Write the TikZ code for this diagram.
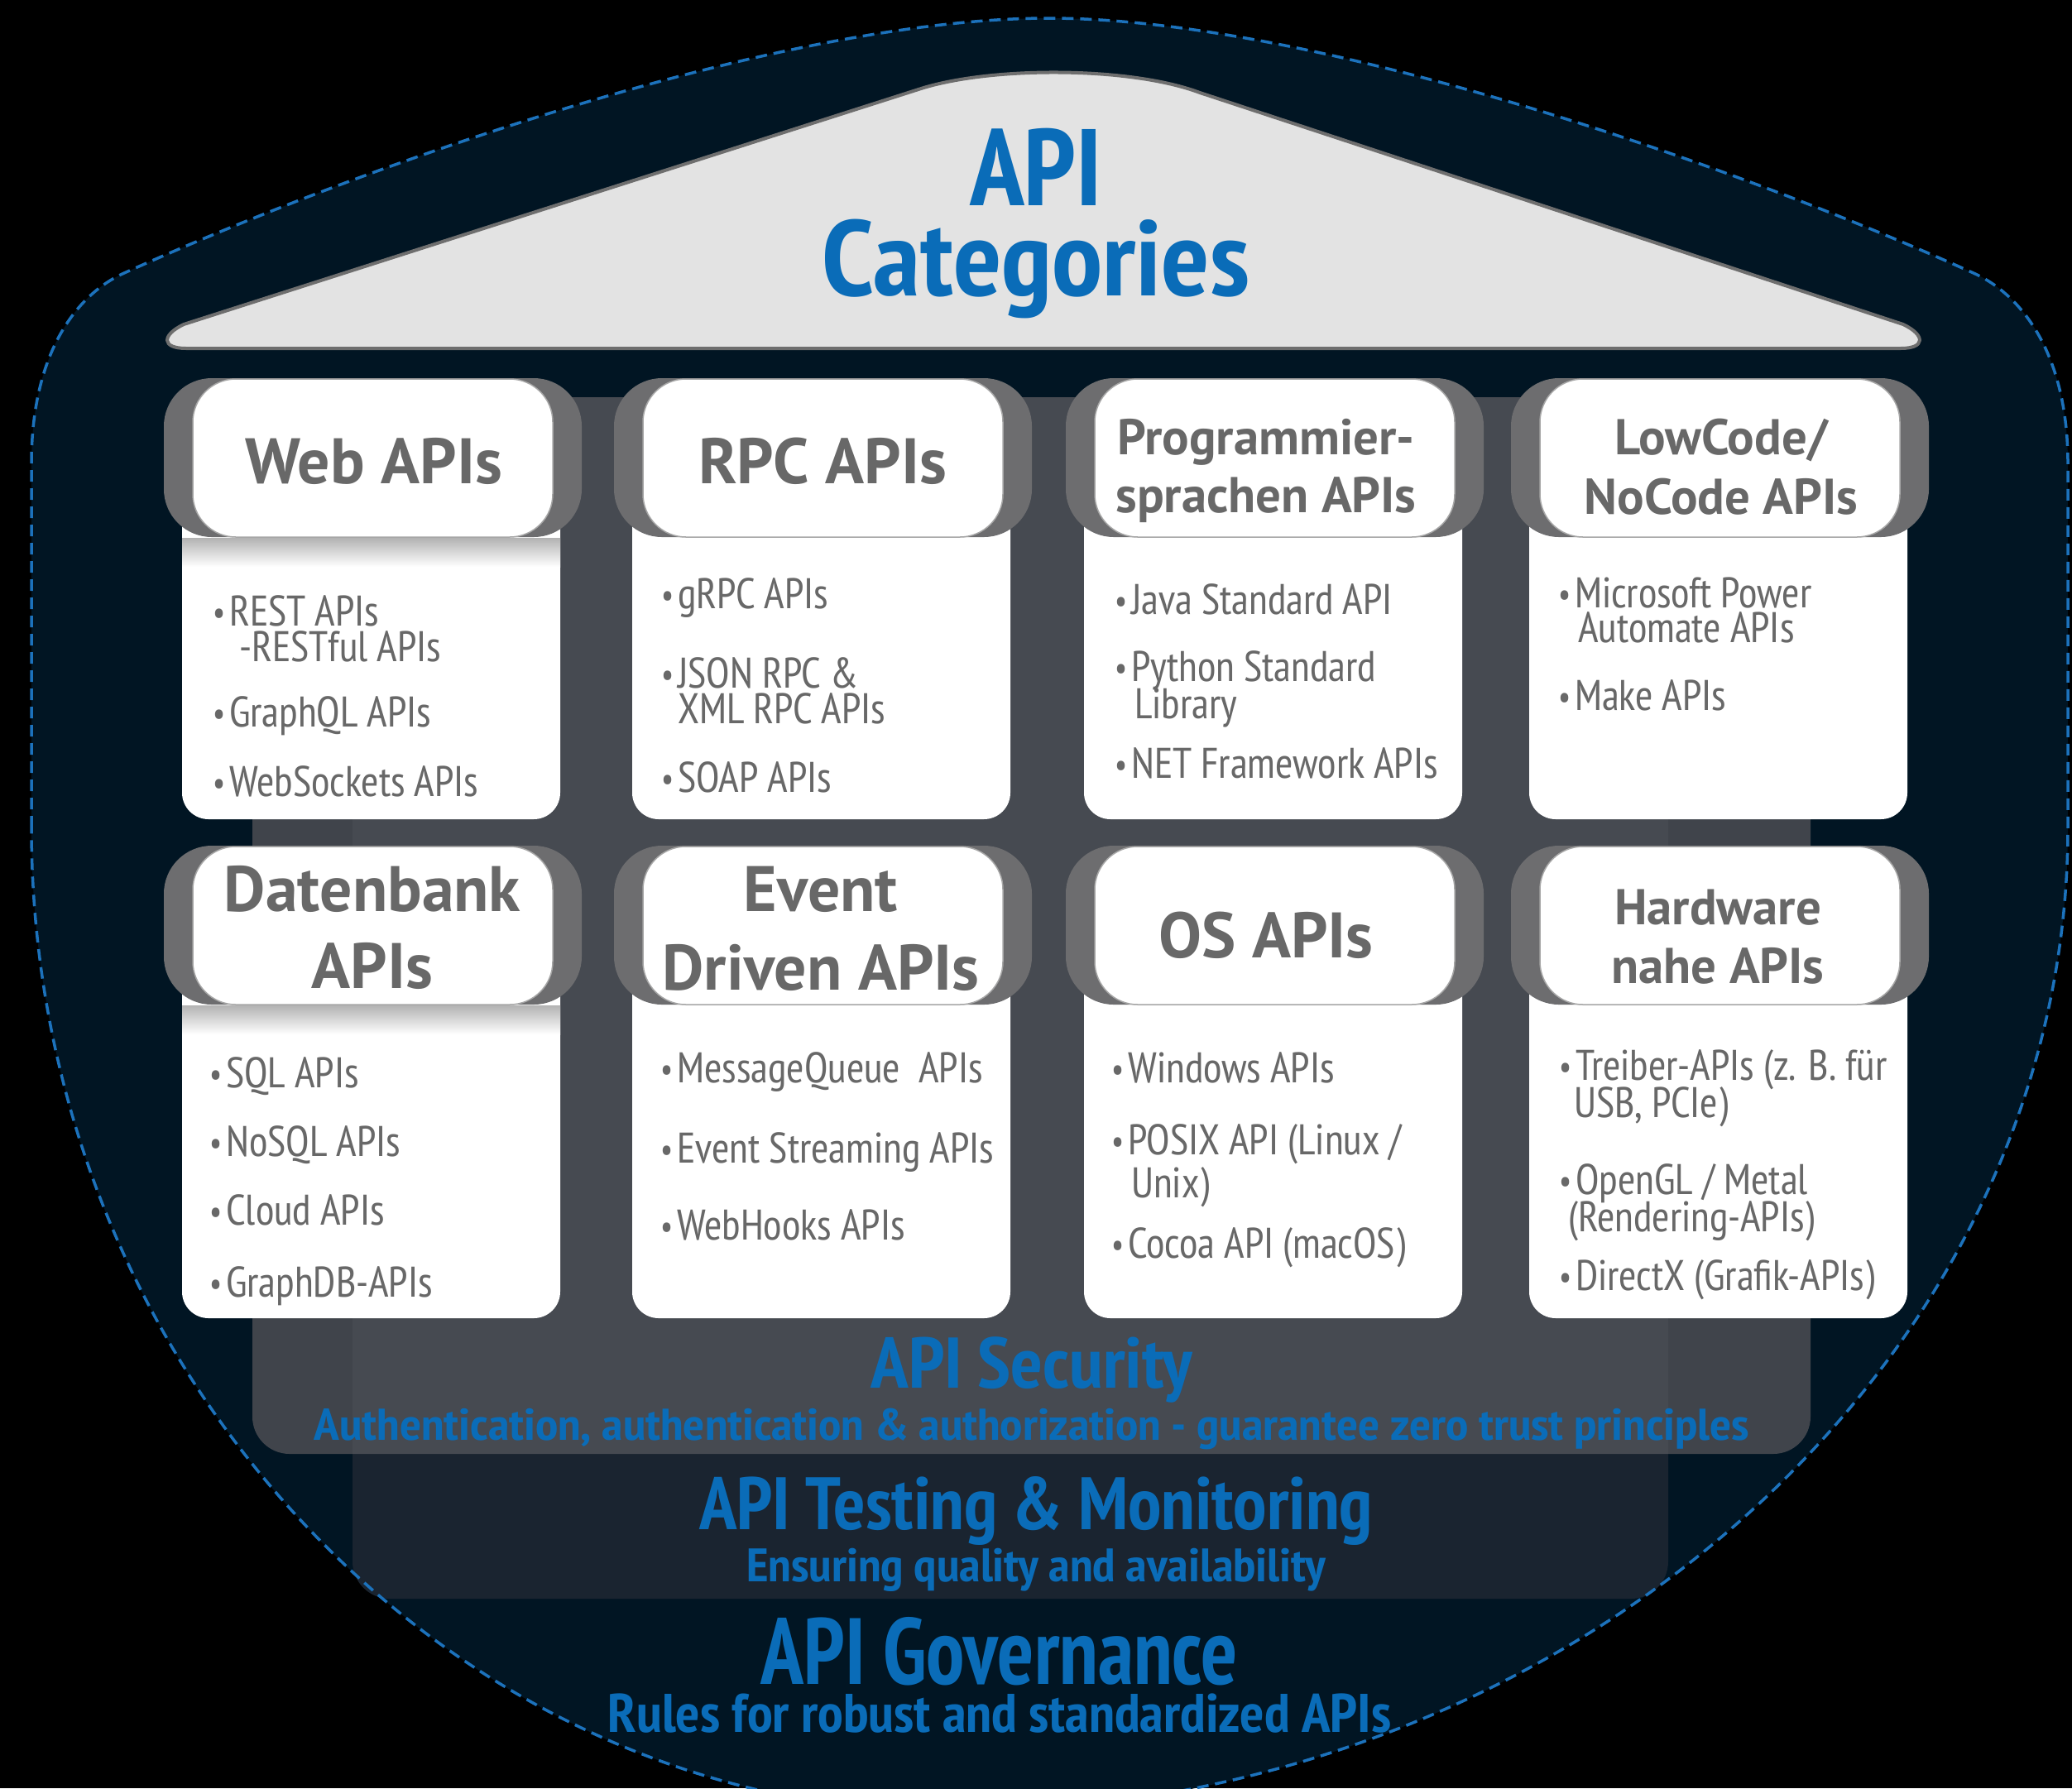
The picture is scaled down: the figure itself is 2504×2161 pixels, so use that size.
\documentclass[tikz,border=0pt]{standalone}
\usepackage{fontspec}
\IfFontExistsTF{PT Sans Narrow}
  {\newfontfamily\narrowfont{PT Sans Narrow}}
  {\newfontfamily\narrowfont{PT Sans}[FakeStretch=0.82]}
\newfontfamily\headfont{PT Sans}

\definecolor{navy}{HTML}{011523}
\definecolor{bandtest}{HTML}{1A2430}
\definecolor{bandsec}{HTML}{40444B}
\definecolor{bandmix}{HTML}{464A51}
\definecolor{apiblue}{HTML}{0A6CB8}
\definecolor{dashblue}{HTML}{1C72BC}
\definecolor{roofgray}{HTML}{E3E3E3}
\definecolor{roofedge}{HTML}{6E6E6E}
\definecolor{tabgray}{HTML}{6D6D6F}
\definecolor{textgray}{HTML}{686868}

\tikzset{
  bul/.style={anchor=base west, inner sep=0pt, text=textgray,
    font=\narrowfont\fontsize{52}{52}\selectfont},
  hdrbig/.style={anchor=base, inner sep=0pt, text=textgray,
    font=\headfont\bfseries\fontsize{78}{78}\selectfont},
  hdrsmall/.style={anchor=base, inner sep=0pt, text=textgray,
    font=\headfont\bfseries\fontsize{61}{61}\selectfont},
  bluetxt/.style={anchor=base, inner sep=0pt, text=apiblue,
    font=\narrowfont\bfseries},
  shieldpath/.style={line width=3.5bp, draw=dashblue, dash pattern=on 14bp off 8bp},
}

% bullet with a fixed gap before the item text
\newcommand{\bdot}{\makebox[20bp][l]{\raisebox{2bp}{\scalebox{0.8}{\textbullet}}}}
% horizontally widened text
\newcommand{\wide}[2]{\scalebox{#1}[1]{#2}}
% font size in big points
\newcommand{\fsz}[1]{\fontsize{#1}{#1}\selectfont}
% wrapped item: #1 line pitch, #2 indent of the second line, #3 first line, #4 second line
\newcommand{\twoline}[4]{\vtop{\baselineskip=#1bp\lineskiplimit=-1000bp
  \hbox{#3}\hbox{\hspace*{#2bp}#4}}}
% centred heading over a subline: #1 line pitch
\newcommand{\cstack}[3]{\vtop{\baselineskip=#1bp\lineskiplimit=-1000bp
  \halign{\hfil##\hfil\cr#2\cr#3\cr}}}

% one category card: #1 left x, #2 top y, #3 bottom y
\newcommand{\apicard}[3]{%
  \fill[white, rounded corners=32bp] (#1+22,#2+100) rectangle (#1+479,#3);
  \fill[tabgray, rounded corners=58bp] (#1,#2) rectangle (#1+505,#2+192);
  \filldraw[fill=white, draw=gray!70, line width=1.5bp, rounded corners=52bp]
    (#1+35,#2+1) rectangle (#1+470,#2+192);
}
% soft shadow below a card header
\newcommand{\cardshadow}[2]{%
  \shade[top color=black!30, bottom color=white] (#1+22,#2+193) rectangle (#1+479,#2+228);
}

\begin{document}
\begin{tikzpicture}[x=1bp, y=-1bp]
\useasboundingbox (0,0) rectangle (2504,2161);
\fill[black] (0,0) rectangle (2504,2161);
\clip (0,0) rectangle (2504,2161);

% shield
\def\shield{(38,1000) -- (38,560) .. controls (38,430) and (90,357) .. (150,330)
  .. controls (450,195) and (950,22) .. (1267,22)
  .. controls (1584,22) and (2085,195) .. (2385,330)
  .. controls (2445,357) and (2499,430) .. (2499,560) -- (2499,1000)
  .. controls (2499,1649) and (1891,2190) .. (1150,2190)
  .. controls (538,2190) and (38,1649) .. (38,1000) -- cycle}
\fill[navy] \shield;

% layered bands: testing, security and their overlap
\begin{scope}
  \clip (0,480) rectangle (2504,2161);
  \fill[bandtest, rounded corners=45bp] (426,400) rectangle (2016,1932);
  \fill[bandsec, rounded corners=45bp] (305,400) rectangle (2188,1757);
  \fill[bandmix] (426,400) rectangle (2016,1757);
\end{scope}

% roof
\filldraw[fill=roofgray, draw=roofedge, line width=4bp]
  (225,421) .. controls (195,421) and (195,405) .. (222,392) -- (1110,108)
  .. controls (1195,80) and (1365,80) .. (1450,112) -- (2300,392)
  .. controls (2327,405) and (2327,421) .. (2297,421) -- cycle;

\node[bluetxt] (title) at (1252,248)
  {\cstack{109}{\fsz{132}API}{\fsz{130}\wide{1.06}{Categories}}};

% cards, row 1
\apicard{198}{457}{990}
\cardshadow{198}{457}
\apicard{742}{457}{990}
\apicard{1288}{457}{990}
\apicard{1826}{457}{990}
% cards, row 2
\apicard{198}{1022}{1593}
\cardshadow{198}{1022}
\apicard{742}{1022}{1593}
\apicard{1288}{1022}{1593}
\apicard{1826}{1022}{1593}

% headers
\node[hdrbig] (hWeb) at (452,584) {Web APIs};
\node[hdrbig] (hRpc) at (994,584) {RPC APIs};
\node[hdrsmall] (hProg) at (1530,549) {\cstack{70}{Programmier-}{sprachen APIs}};
\node[hdrsmall] (hLow) at (2080,549) {\cstack{72}{LowCode/}{NoCode APIs}};
\node[hdrbig] (hDb) at (450,1101) {\cstack{93}{Datenbank}{APIs}};
\node[hdrbig] (hEv) at (992,1101) {\cstack{95}{Event}{Driven APIs}};
\node[hdrbig] (hOs) at (1530,1157) {OS APIs};
\node[hdrsmall] (hHw) at (2076,1117) {\cstack{71}{Hardware}{nahe APIs}};

% items: Web APIs
\node[bul] (w1) at (257,756) {\twoline{43}{32}{\bdot REST APIs}{-RESTful APIs}};
\node[bul] (w2) at (257,878) {\bdot GraphQL APIs};
\node[bul] (w3) at (257,962) {\bdot WebSockets APIs};
% items: RPC APIs
\node[bul] (r1) at (799,735) {\bdot gRPC APIs};
\node[bul] (r2) at (799,831) {\twoline{43}{20}{\bdot JSON RPC \&}{XML RPC APIs}};
\node[bul] (r3) at (799,957) {\bdot SOAP APIs};
% items: Programmiersprachen APIs
\node[bul] (p1) at (1347,742) {\bdot Java Standard API};
\node[bul] (p2) at (1347,823) {\twoline{45}{24}{\bdot Python Standard}{Library}};
\node[bul] (p3) at (1347,940) {\bdot NET Framework APIs};
% items: LowCode/NoCode APIs
\node[bul] (l1) at (1883,734) {\twoline{42}{24}{\bdot Microsoft Power}{Automate APIs}};
\node[bul] (l2) at (1883,858) {\bdot Make APIs};
% items: Datenbank APIs
\node[bul] (d1) at (253,1314) {\bdot SQL APIs};
\node[bul] (d2) at (253,1397) {\bdot NoSQL APIs};
\node[bul] (d3) at (253,1480) {\bdot Cloud APIs};
\node[bul] (d4) at (253,1567) {\bdot GraphDB-APIs};
% items: Event Driven APIs
\node[bul] (e1) at (798,1308) {\bdot MessageQueue~ APIs};
\node[bul] (e2) at (798,1405) {\bdot Event Streaming APIs};
\node[bul] (e3) at (798,1498) {\bdot WebHooks APIs};
% items: OS APIs
\node[bul] (o1) at (1343,1308) {\bdot Windows APIs};
\node[bul] (o2) at (1343,1395) {\twoline{52}{24}{\bdot POSIX API (Linux /}{Unix)}};
\node[bul] (o3) at (1343,1520) {\bdot Cocoa API (macOS)};
% items: Hardware nahe APIs
\node[bul] (x1) at (1884,1305) {\twoline{45}{18}{\bdot Treiber-APIs (z. B. für}{USB, PCIe)}};
\node[bul] (x2) at (1884,1443) {\twoline{45}{11}{\bdot OpenGL / Metal}{(Rendering-APIs)}};
\node[bul] (x3) at (1884,1559) {\bdot DirectX (Grafik-APIs)};

% foundation layers
\node[bluetxt] (sec) at (1247,1677)
  {\cstack{63}{\fsz{87}\wide{1.05}{API Security}}
    {\fsz{54}\wide{1.14}{Authentication, authentication \& authorization - guarantee zero trust principles}}};
\node[bluetxt] (tst) at (1252,1848)
  {\cstack{63}{\fsz{90}\wide{1.01}{API Testing \& Monitoring}}
    {\fsz{57}\wide{1.085}{Ensuring quality and availability}}};
\node[bluetxt] (gov) at (1208,2035)
  {\cstack{58}{\fsz{114}\wide{0.915}{API Governance}}
    {\fsz{66}\wide{1.05}{Rules for robust and standardized APIs}}};

% dashed shield outline
\draw[shieldpath] \shield;
\end{tikzpicture}
\end{document}
